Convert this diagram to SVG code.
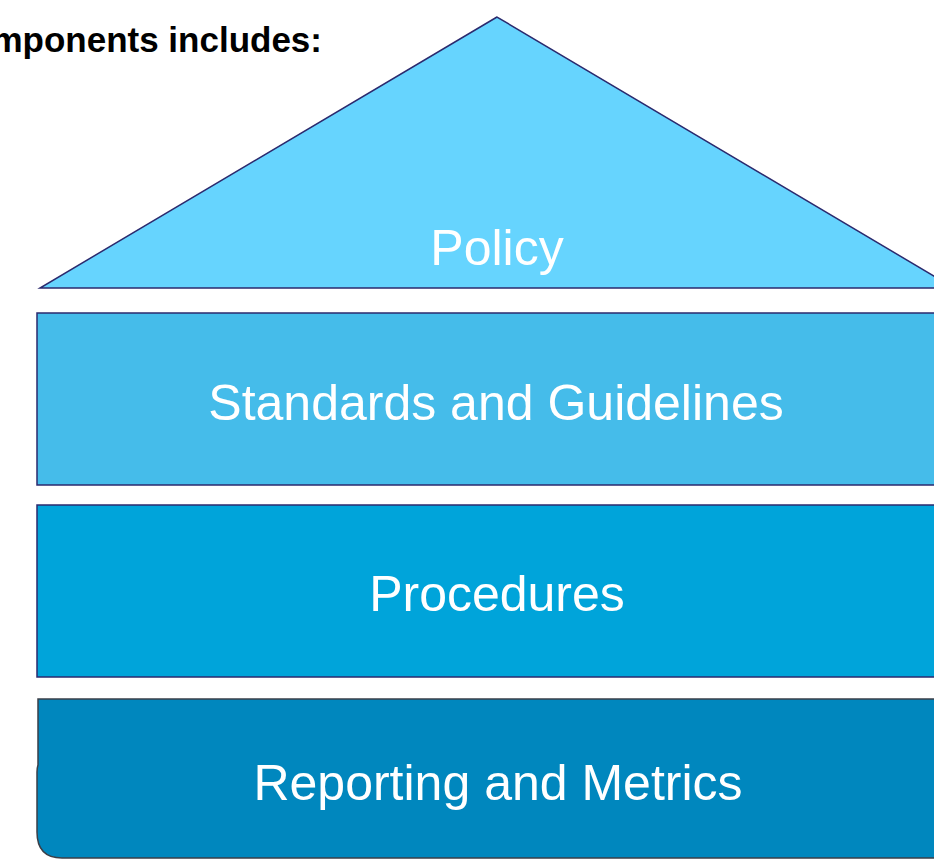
<svg xmlns="http://www.w3.org/2000/svg" width="934" height="859" viewBox="0 0 934 859">
<style>
.lbl{font-family:"Liberation Sans",Arial,sans-serif;font-size:50px;fill:#ffffff;text-anchor:middle}
.ttl{font-family:"Liberation Sans",Arial,sans-serif;font-size:35px;font-weight:bold;fill:#000000;text-anchor:end}
.edge{stroke:#2b2a6e;stroke-width:1.5}
</style>
<rect width="934" height="859" fill="#ffffff"/>
<text class="ttl" x="322" y="52">mponents includes:</text>
<g id="policy">
<polygon class="edge" points="497,17 40,288 954,288" fill="#66D4FE"/>
<text class="lbl" x="497" y="265">Policy</text>
</g>
<g id="standards">
<rect class="edge" x="37" y="313" width="920" height="172" fill="#45BCEA"/>
<text class="lbl" x="496" y="420">Standards and Guidelines</text>
</g>
<g id="procedures">
<rect class="edge" x="37" y="505" width="920" height="172" fill="#00A4DA"/>
<text class="lbl" x="497" y="611">Procedures</text>
</g>
<g id="reporting">
<path d="M38,699 L960,699 L960,858 L62,858 Q37,858 37,832 L37,772 Q37,768 38,765 Z" fill="#0087BE" stroke="#3a3f48" stroke-width="1.5"/>
<text class="lbl" x="498" y="800">Reporting and Metrics</text>
</g>
<g id="connectors"/>
</svg>
